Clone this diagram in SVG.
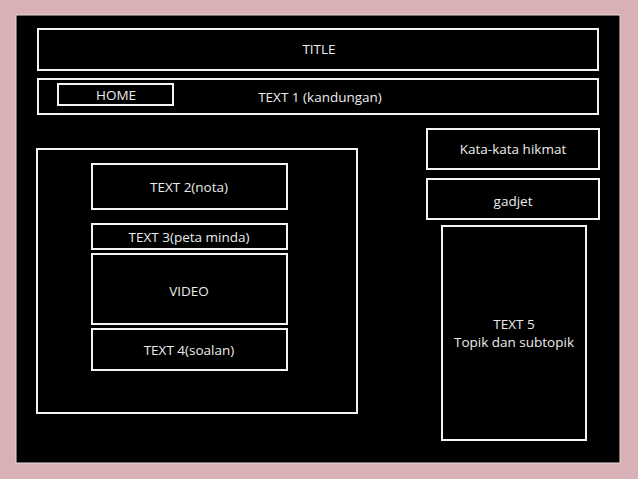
<svg xmlns="http://www.w3.org/2000/svg" width="638" height="479" viewBox="0 0 638 479">
<style>
.box{fill:none;stroke:#f4f4f4;stroke-width:2}
.t{fill:#ececec;font-family:"Open Sans","Noto Sans",sans-serif;font-size:13.5px;text-anchor:middle}
</style>
<rect x="0" y="0" width="638" height="479" fill="#d8b0b6"/>
<rect x="16" y="15" width="604" height="448" fill="#000000" stroke="#e8dcdc" stroke-width="1"/>
<g id="title"><rect class="box" x="38" y="29" width="560" height="41"/><text class="t" x="319" y="54">TITLE</text></g>
<g id="text1"><rect class="box" x="38" y="79" width="560" height="35"/><text class="t" x="320" y="102">TEXT 1 (kandungan)</text></g>
<g id="home"><rect class="box" x="58" y="84" width="115" height="21"/><text class="t" x="116" y="100">HOME</text></g>
<g id="kata"><rect class="box" x="427" y="129" width="172" height="40"/><text class="t" x="513" y="154">Kata-kata hikmat</text></g>
<g id="gadjet"><rect class="box" x="427" y="179" width="172" height="40"/><text class="t" x="513" y="206">gadjet</text></g>
<g id="text5"><rect class="box" x="442" y="226" width="144" height="214"/><text class="t" x="514" y="329">TEXT 5</text><text class="t" x="514" y="347">Topik dan subtopik</text></g>
<g id="leftpanel"><rect class="box" x="37" y="149" width="320" height="264"/></g>
<g id="text2"><rect class="box" x="92" y="164" width="195" height="45"/><text class="t" x="189" y="192">TEXT 2(nota)</text></g>
<g id="text3"><rect class="box" x="92" y="224" width="195" height="25"/><text class="t" x="189" y="242">TEXT 3(peta minda)</text></g>
<g id="video"><rect class="box" x="92" y="254" width="195" height="70"/><text class="t" x="189" y="296">VIDEO</text></g>
<g id="text4"><rect class="box" x="92" y="329" width="195" height="41"/><text class="t" x="189" y="355">TEXT 4(soalan)</text></g>
<g id="connectors"/>
</svg>
